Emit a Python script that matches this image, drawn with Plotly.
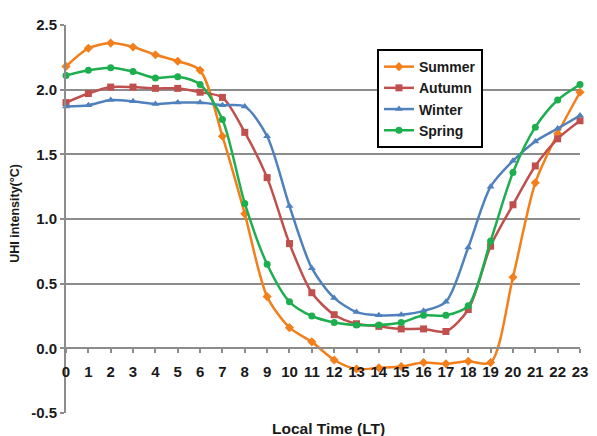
import plotly.graph_objects as go

hours = list(range(24))
tick_labels = [str(h) for h in hours]

summer = [2.18, 2.32, 2.36, 2.33, 2.27, 2.22, 2.15, 1.64, 1.04, 0.40, 0.16, 0.05,
          -0.09, -0.16, -0.15, -0.14, -0.11, -0.12, -0.10, -0.11, 0.55, 1.28, 1.66, 1.98]
autumn = [1.90, 1.97, 2.02, 2.02, 2.01, 2.01, 1.98, 1.94, 1.67, 1.32, 0.81, 0.43,
          0.26, 0.19, 0.17, 0.15, 0.15, 0.13, 0.30, 0.79, 1.11, 1.41, 1.62, 1.76]
winter = [1.87, 1.88, 1.92, 1.91, 1.89, 1.90, 1.90, 1.88, 1.87, 1.64, 1.10, 0.62,
          0.39, 0.28, 0.255, 0.26, 0.29, 0.36, 0.78, 1.25, 1.45, 1.60, 1.70, 1.80]
spring = [2.11, 2.15, 2.17, 2.14, 2.09, 2.10, 2.04, 1.77, 1.12, 0.65, 0.36, 0.25,
          0.20, 0.18, 0.18, 0.20, 0.255, 0.255, 0.33, 0.83, 1.36, 1.71, 1.92, 2.04]

series = [
    ("Summer", summer, "#F27F1B", "diamond", 7),
    ("Autumn", autumn, "#C0504D", "square", 7),
    ("Winter", winter, "#4F81BD", "triangle-up", 7),
    ("Spring", spring, "#1DAF4F", "circle", 7),
]

fig = go.Figure()
for name, vals, color, sym, size in series:
    fig.add_trace(go.Scatter(
        x=hours, y=vals, name=name, mode="lines+markers",
        line=dict(color=color, width=2.5, shape="spline", smoothing=0.8),
        marker=dict(color=color, symbol=sym, size=size),
        cliponaxis=False,
    ))

font_main = "Liberation Sans, Arial, sans-serif"
txt = "#1a1a1a"

fig.update_layout(
    width=597, height=436,
    margin=dict(l=66, r=9, t=25, b=23),
    paper_bgcolor="white", plot_bgcolor="white",
    font=dict(family=font_main, size=14, color=txt),
    showlegend=True,
    legend=dict(
        x=0.605, y=0.938, xanchor="left", yanchor="top",
        bgcolor="white", bordercolor="black", borderwidth=2,
        font=dict(family=font_main, size=14, color=txt, weight="bold"),
        itemwidth=30, tracegroupgap=0,
    ),
    xaxis=dict(
        range=[0, 23], tickmode="array", tickvals=hours, ticktext=tick_labels,
        anchor="free", position=1/6, showgrid=False, zeroline=False,
        showline=True, linecolor="#8c8c8c", linewidth=2,
        ticks="outside", ticklen=4, tickcolor="#8c8c8c", tickwidth=1.5,
        ticklabelstandoff=6,
        tickfont=dict(family=font_main, size=15, color=txt, weight="bold"),
    ),
    yaxis=dict(
        range=[-0.5, 2.5], tickmode="array",
        tickvals=[-0.5, 0, 0.5, 1.0, 1.5, 2.0, 2.5],
        ticktext=["-0.5", "0.0", "0.5", "1.0", "1.5", "2.0", "2.5"],
        showgrid=True, gridcolor="#8c8c8c", gridwidth=2, zeroline=False,
        showline=True, linecolor="#8c8c8c", linewidth=2,
        ticks="outside", ticklen=4, tickcolor="#8c8c8c", tickwidth=1.5,
        tickfont=dict(family=font_main, size=15, color=txt, weight="bold"),
    ),
    annotations=[
        dict(text="<b>Local Time (LT)</b>", xref="paper", yref="paper",
             x=0.51, y=-0.039, xanchor="center", yanchor="middle", showarrow=False,
             font=dict(family=font_main, size=15.5, color=txt)),
        dict(text="<b>UHI intensity(°C)</b>", xref="paper", yref="paper",
             x=-0.098, y=0.515, xanchor="center", yanchor="middle", showarrow=False,
             textangle=-90, font=dict(family=font_main, size=12.5, color=txt)),
    ],
)

fig.write_html("out.html")
